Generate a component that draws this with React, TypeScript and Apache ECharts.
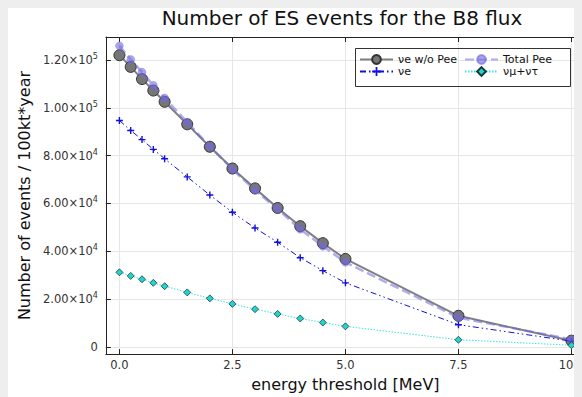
import React, { useEffect, useRef } from "react";
import * as echarts from "echarts";

const thresholds = [0, 0.25, 0.5, 0.75, 1.0, 1.5, 2.0, 2.5, 3.0, 3.5, 4.0, 4.5, 5.0, 7.5, 10.0];
const veNoPee = [122000, 117100, 112000, 107200, 102500, 93100, 83700, 74600, 66300, 58100, 50500, 43400, 36800, 13000, 2600];
const totalPee = [125900, 120200, 114900, 109400, 104100, 93900, 83800, 74300, 65500, 57600, 49200, 42100, 35400, 12300, 3100];
const veOnly = [94700, 90500, 86700, 82600, 78700, 71100, 63500, 56300, 49700, 43800, 37300, 31900, 26800, 9300, 2400];
const numuNutau = [31200, 29700, 28300, 26800, 25400, 22800, 20300, 18000, 15800, 13800, 11900, 10200, 8600, 3000, 700];

const xTicks = [0, 2.5, 5, 7.5, 10];
const yTicks = [0, 20000, 40000, 60000, 80000, 100000, 120000];

const seriesNames = ["νe w/o Pee", "Total Pee", "νe", "νμ+ντ"];

const pairs = (ys: number[]) => thresholds.map((x, i) => [x, ys[i]]);

const fmtY = (v: number) => {
  if (v === 0) return "0";
  const e = Math.floor(Math.log10(Math.abs(v)));
  const m = v / Math.pow(10, e);
  return `${m.toFixed(2)}×10{sup|${e}}`;
};

const FONT = "DejaVu Sans";
const AX = "#222222";
const GRID = "#e6e6e6";

export default function App() {
  const ref = useRef<HTMLDivElement>(null);
  useEffect(() => {
    document.body.style.background = "#eeeeee";
    document.body.style.overflow = "hidden";
    const chart = echarts.init(ref.current!, null, { renderer: "svg" });
    const labelStyle = { color: "#333333", fontFamily: FONT, fontSize: 11.5 };
    const legendText = { fontFamily: FONT, fontSize: 11, color: "#111111" };
    chart.setOption({
      animation: false,
      backgroundColor: "#ffffff",
      textStyle: { fontFamily: FONT },
      title: {
        text: "Number of ES events for the B8 flux",
        left: 334,
        top: 1,
        textAlign: "center",
        padding: 0,
        textStyle: { fontFamily: FONT, fontSize: 20, fontWeight: "normal", color: "#111111" },
      },
      grid: { left: 91, right: 23, top: 30, bottom: 40, containLabel: false },
      legend: [
        {
          data: [seriesNames[0], seriesNames[2]],
          orient: "vertical",
          left: 351,
          top: 47,
          padding: 0,
          itemWidth: 33,
          itemHeight: 11,
          itemGap: 1,
          textStyle: legendText,
        },
        {
          data: [seriesNames[1], seriesNames[3]],
          orient: "vertical",
          left: 456,
          top: 47,
          padding: 0,
          itemWidth: 33,
          itemHeight: 11,
          itemGap: 1,
          textStyle: legendText,
        },
      ],
      graphic: [
        {
          type: "rect",
          shape: { x: 347.5, y: 41.5, width: 215, height: 38 },
          style: { fill: "none", stroke: "#333333", lineWidth: 1 },
          z: 10,
        },
      ],
      xAxis: [
        {
          type: "value",
          position: "bottom",
          min: -0.3,
          max: 10.3,
          name: "energy threshold [MeV]",
          nameLocation: "middle",
          nameGap: 20,
          nameTextStyle: { fontFamily: FONT, fontSize: 16, color: "#111111" },
          axisLine: { onZero: false, lineStyle: { color: AX, width: 1 } },
          axisTick: { inside: true, length: 5, customValues: xTicks, lineStyle: { color: AX } },
          axisLabel: { customValues: xTicks, formatter: (v: number) => v.toFixed(1), margin: 5, ...labelStyle },
          splitLine: { show: true, lineStyle: { color: GRID, width: 1 } },
        },
        {
          type: "value",
          position: "top",
          min: -0.3,
          max: 10.3,
          axisLine: { onZero: false, lineStyle: { color: AX, width: 1 } },
          axisTick: { inside: true, length: 5, customValues: xTicks, lineStyle: { color: AX } },
          axisLabel: { show: false },
          splitLine: { show: false },
        },
      ],
      yAxis: [
        {
          type: "value",
          position: "left",
          min: -3000,
          max: 129600,
          name: "Number of events / 100kt*year",
          nameLocation: "middle",
          nameGap: 71,
          nameTextStyle: { fontFamily: FONT, fontSize: 16, color: "#111111" },
          axisLine: { onZero: false, show: true, lineStyle: { color: AX, width: 1 } },
          axisTick: { show: true, inside: true, length: 5, customValues: yTicks, lineStyle: { color: AX } },
          axisLabel: {
            customValues: yTicks,
            formatter: fmtY,
            margin: 8,
            ...labelStyle,
            rich: {
              sup: { fontFamily: FONT, fontSize: 8, color: "#333333", padding: [0, 0, 7, 0] },
            },
          },
          splitLine: { show: true, lineStyle: { color: GRID, width: 1 } },
        },
        {
          type: "value",
          position: "right",
          min: -3000,
          max: 129600,
          axisLine: { onZero: false, show: true, lineStyle: { color: AX, width: 1 } },
          axisTick: { show: true, inside: true, length: 5, customValues: yTicks, lineStyle: { color: AX } },
          axisLabel: { show: false },
          splitLine: { show: false },
        },
      ],
      series: [
        {
          name: seriesNames[0],
          type: "line",
          data: pairs(veNoPee),
          symbol: "circle",
          symbolSize: 11,
          lineStyle: { color: "#808080", width: 2 },
          itemStyle: { color: "#767676", borderColor: "#333333", borderWidth: 1 },
          z: 2,
        },
        {
          name: seriesNames[2],
          type: "line",
          data: pairs(veOnly),
          symbol: "path://M4,0H6V4H10V6H6V10H4V6H0V4H4Z",
          symbolSize: 7,
          lineStyle: { color: "#1010d8", width: 1, type: [6, 3, 1.5, 3, 1.5, 3] },
          itemStyle: { color: "#1010d8" },
          z: 3,
        },
        {
          name: seriesNames[1],
          type: "line",
          data: pairs(totalPee),
          symbol: "circle",
          symbolSize: 8,
          lineStyle: { color: "rgb(113,105,222)", opacity: 0.55, width: 2.5, type: [9, 4] },
          itemStyle: { color: "rgb(113,105,222)", opacity: 0.6, borderColor: "rgb(113,105,222)", borderWidth: 0.5 },
          z: 4,
        },
        {
          name: seriesNames[3],
          type: "line",
          data: pairs(numuNutau),
          symbol: "diamond",
          symbolSize: 7,
          lineStyle: { color: "#3ae3e3", width: 1, type: [1.5, 1.5] },
          itemStyle: { color: "#22d3cf", borderColor: "#1a3a3a", borderWidth: 0.8 },
          z: 5,
        },
      ],
    });
    return () => chart.dispose();
  }, []);
  return (
    <div
      ref={ref}
      style={{ width: 600, height: 390, marginTop: -1, background: "#ffffff" }}
    />
  );
}
